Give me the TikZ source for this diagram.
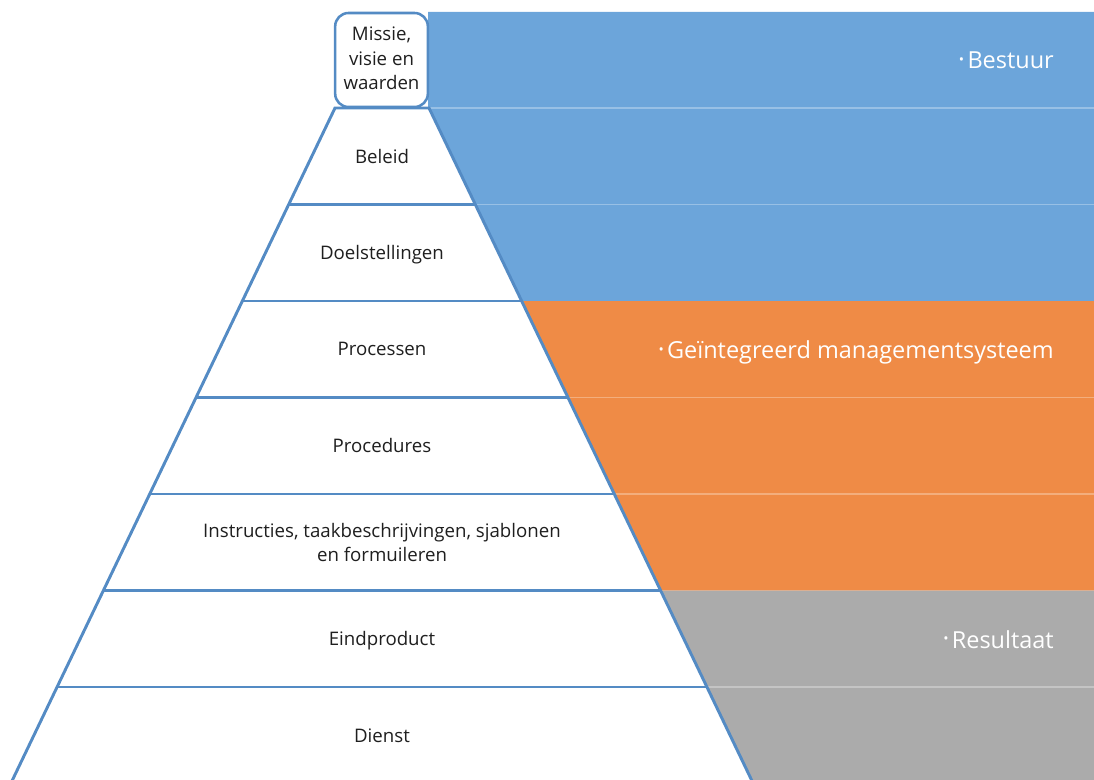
\documentclass[tikz,border=0pt]{standalone}
\usepackage{fontspec}
\setmainfont{Open Sans}
\usetikzlibrary{positioning,calc}
\definecolor{pyr}{RGB}{84,139,196}
\definecolor{bandblue}{RGB}{108,165,218}
\definecolor{bandorange}{RGB}{239,139,70}
\definecolor{bandgray}{RGB}{171,171,171}
\newcommand\capstrut{\rule[-2.6pt]{0pt}{12.4pt}}
\newcommand\tagdot{\raisebox{3.2pt}{\fontsize{10.5}{10.5}\selectfont •}\hspace{2.5pt}}
\tikzset{
  every node/.style={font=\fontsize{14}{18}\selectfont, inner sep=0pt},
  edge/.style={draw=pyr, line width=2.2pt},
  lvl/.style={align=center, text=black!88},
  topbox/.style={lvl, draw=pyr, fill=white, line width=1.9pt, rounded corners=10pt,
    minimum width=69.5pt, minimum height=70.5pt},
  tag/.style={font=\fontsize{17.6}{22}\selectfont, text=white, anchor=base east},
  sep/.style={draw=white, opacity=0.3, line width=0.8pt},
}

\begin{document}
\begin{tikzpicture}[x=0.75pt, y=-0.75pt]
\useasboundingbox (0,0) rectangle (1094,780);
\clip (0,0) rectangle (1094,780);

% ---------------------------------------------------------------- level borders
\foreach \i in {0,...,7} {
  \pgfmathsetmacro\yy{108+\i*96.5}
  \pgfmathsetmacro\hw{47+(\yy-108)*0.48}
  \coordinate (L\i) at (382-\hw,\yy);
  \coordinate (R\i) at (382+\hw,\yy);
}
\coordinate (E) at (1094,0);

% ---------------------------------------------------------------- coloured bands
\fill[bandblue] (428,12) -| (R2 -| E) -- (R2) -- (R0) -- (428,108) -- cycle;
\fill[bandorange] (R2) -- (R2 -| E) -- (R5 -| E) -- (R5) -- cycle;
\fill[bandgray] (R5) -- (R5 -| E) -- (R7 -| E) -- (R7) -- cycle;
\foreach \i in {0,1,3,4,6}
  \draw[sep] (R\i) -- (R\i -| E);

% ---------------------------------------------------------------- pyramid
\filldraw[fill=white, edge] (L0) -- (R0) -- (R7) -- (L7) -- cycle;
\foreach \i in {1,...,6}
  \draw[edge] (L\i) -- (R\i);

\node[topbox, font=\fontsize{14}{18.5}\selectfont] (missie) at (381.5,60) {\capstrut Missie,\\visie en\\waarden\capstrut};
\foreach \nm/\t [count=\k] in {beleid/Beleid, doel/Doelstellingen, proc/Processen,
    procd/Procedures, instr/{Instructies, taakbeschrijvingen, sjablonen\\en formuileren},
    eind/Eindproduct, dienst/Dienst}
  \node[lvl] (\nm) at (382,108+\k*96.5-46.5) {\capstrut\t\capstrut};

% ---------------------------------------------------------------- band labels
\node[tag] (bestuur) at (1054,69) {\tagdot Bestuur};
\node[tag] (ims) at (1054,358.5) {\tagdot Geïntegreerd managementsysteem};
\node[tag] (result) at (1054,648) {\tagdot Resultaat};

\end{tikzpicture}
\end{document}
